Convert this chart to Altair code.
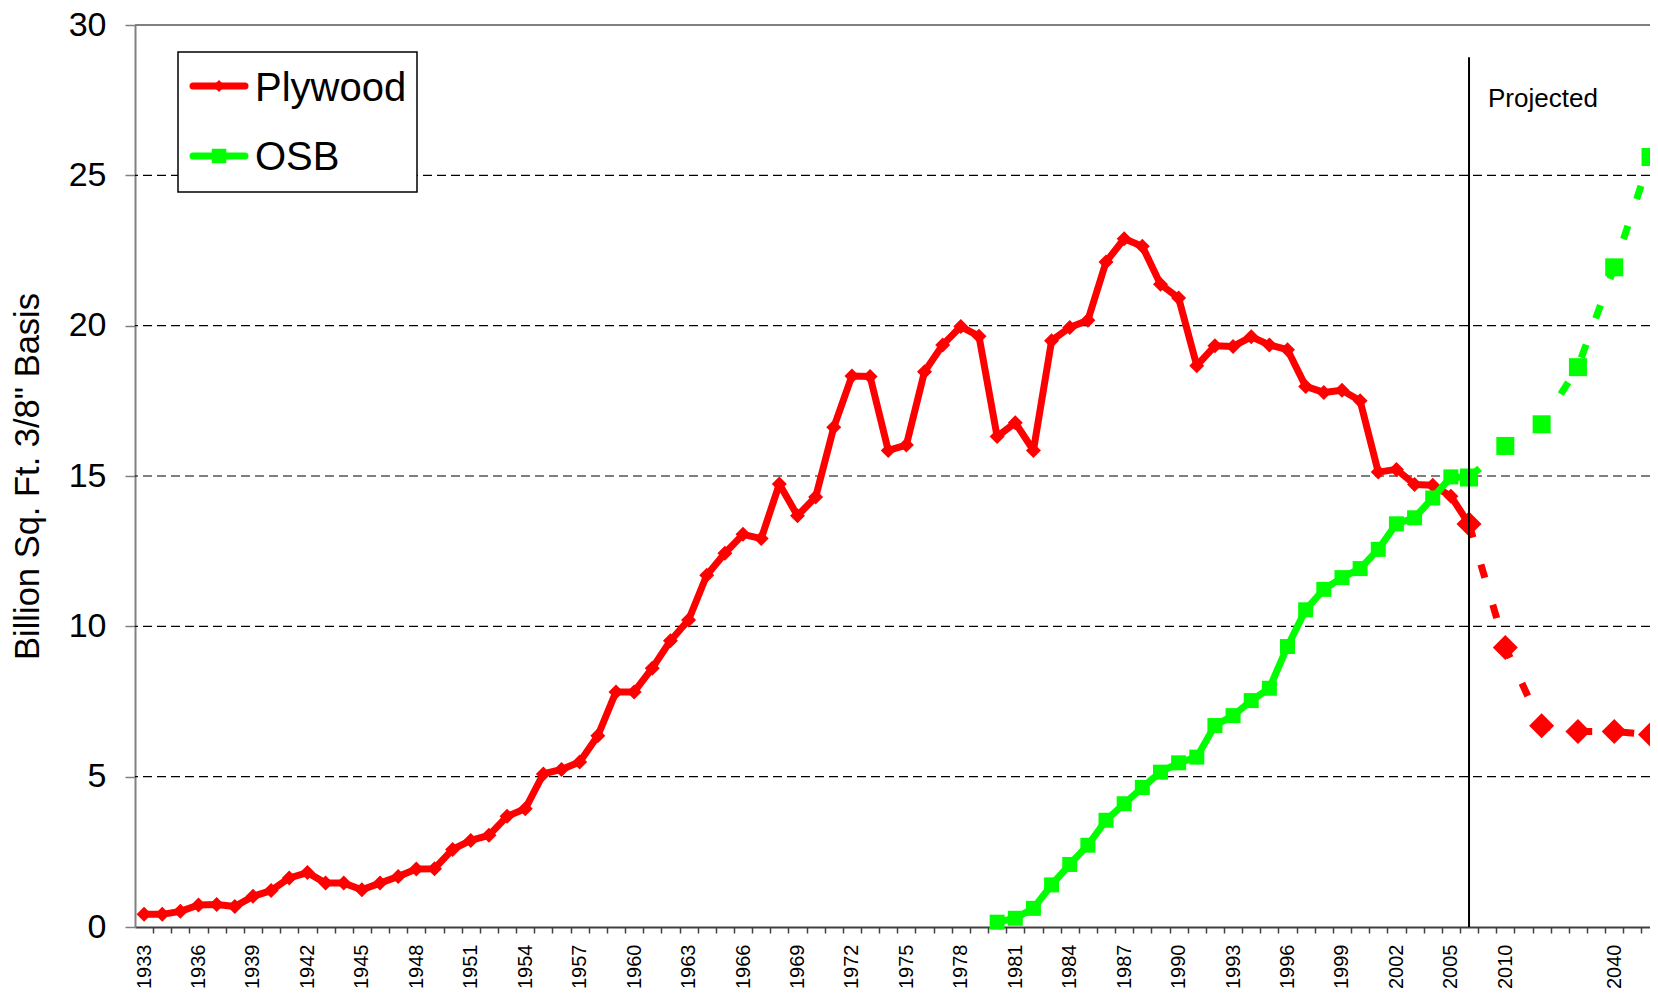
import altair as alt
import pandas as pd

# ---------------- data ----------------
CATEGORIES = [str(y) for y in range(1933, 2007)] + [
    "", "2010", "", "2020", "", "2030", "", "2040", "", "2050"]

PLY_YEARS = [str(y) for y in range(1933, 2007)]
PLY_VALUES = [
    0.42, 0.42, 0.52, 0.73, 0.75, 0.68, 1.02, 1.21, 1.63, 1.81,
    1.46, 1.46, 1.24, 1.46, 1.68, 1.93, 1.94, 2.58, 2.88, 3.05,
    3.68, 3.93, 5.09, 5.24, 5.49, 6.36, 7.82, 7.82, 8.61, 9.52,
    10.21, 11.70, 12.43, 13.06, 12.92, 14.73, 13.68, 14.30, 16.62, 18.33,
    18.31, 15.85, 16.03, 18.47, 19.36, 19.97, 19.65, 16.31, 16.77, 15.85,
    19.50, 19.94, 20.18, 22.12, 22.89, 22.64, 21.38, 20.92, 18.67, 19.33,
    19.31, 19.63, 19.36, 19.20, 17.98, 17.78, 17.85, 17.50, 15.13, 15.22,
    14.72, 14.69, 14.33, 13.40]

OSB_YEARS = [str(y) for y in range(1980, 2007)]
OSB_VALUES = [
    0.16, 0.29, 0.62, 1.40, 2.08, 2.72, 3.55, 4.10, 4.64, 5.15,
    5.46, 5.65, 6.70, 7.03, 7.53, 7.94, 9.33, 10.55, 11.23, 11.62,
    11.92, 12.56, 13.41, 13.61, 14.27, 14.97, 14.95]

PROJ_YEARS = ["2006", "2010", "2020", "2030", "2040", "2050"]
PLY_PROJ = [13.40, 9.30, 6.69, 6.50, 6.50, 6.40]
OSB_PROJ = [14.95, 16.00, 16.72, 18.62, 21.94, 25.61]

GRID_VALUES = [5, 10, 15, 20, 25]
Y_TICKS = [0, 5, 10, 15, 20, 25, 30]
Y_MAX = 30
PROJ_START = "2006"
PROJ_LINE_TOP = 28.93
Y_TITLE = 'Billion Sq. Ft. 3/8" Basis'
SERIES = ["Plywood", "OSB"]

RED = "#FF0000"
GREEN = "#00FF00"
FONT = "Liberation Sans"


def idx(labels):
    return [CATEGORIES.index(l) for l in labels]


ply_df = pd.DataFrame({"i": idx(PLY_YEARS), "v": PLY_VALUES})
osb_df = pd.DataFrame({"i": idx(OSB_YEARS), "v": OSB_VALUES})
ply_proj_df = pd.DataFrame({"i": idx(PROJ_YEARS), "v": PLY_PROJ})
osb_proj_df = pd.DataFrame({"i": idx(PROJ_YEARS), "v": OSB_PROJ})
grid_df = pd.DataFrame({"v": GRID_VALUES})
top_df = pd.DataFrame({"v": [Y_MAX]})
vline_df = pd.DataFrame({"i": [CATEGORIES.index(PROJ_START)], "v": [0], "v2": [PROJ_LINE_TOP]})
one = pd.DataFrame({"k": [0]})

# ---------------- layout ----------------
W, H = 1515, 902
BAND = 18.15                     # pixel width of one category
N = len(CATEGORIES)
X_HI = -0.5 + W / BAND           # plot is cut at the right edge like the original

xscale = alt.Scale(domain=[-0.5, X_HI], nice=False, zero=False)
yscale = alt.Scale(domain=[0, Y_MAX], nice=False, zero=True)

arr = "[" + ",".join("'" + c + "'" for c in CATEGORIES) + "]"
label_expr = f"(datum.value >= 0 && datum.value % 3 == 0) ? {arr}[datum.value] : ''"

x_axis = alt.Axis(
    values=list(range(-1, N - 1)), tickOffset=BAND / 2, labelOffset=-BAND / 2,
    labelExpr=label_expr, labelAngle=-90, labelFont=FONT, labelFontSize=20,
    labelColor="black", labelPadding=11, labelFlush=False, labelOverlap=False,
    labelBound=False, tickSize=6, tickColor="#404040", tickWidth=1.5,
    domainColor="#404040", domainWidth=2, grid=False, title=None)

y_axis = alt.Axis(
    values=Y_TICKS, labelFont=FONT, labelFontSize=34, labelColor="black",
    labelPadding=19, tickSize=10, tickColor="#808080", tickWidth=1.5,
    domainColor="#808080", domainWidth=2, grid=False,
    title=Y_TITLE, titleFont=FONT, titleFontSize=34.5, titleFontWeight="normal",
    titleColor="black", titleX=-97, titleY=H / 2, titleAngle=-90,
    titleBaseline="alphabetic", titleAlign="center")


def X():
    return alt.X("i:Q", scale=xscale, axis=x_axis)


def Y():
    return alt.Y("v:Q", scale=yscale, axis=y_axis)


grid = alt.Chart(grid_df).mark_rule(color="black", strokeWidth=1.2, strokeDash=[9, 5]).encode(
    y=Y())
top_border = alt.Chart(top_df).mark_rule(color="#808080", strokeWidth=2).encode(y=Y())

ply_line = alt.Chart(ply_df).mark_line(color=RED, strokeWidth=7, strokeJoin="round").encode(
    x=X(), y=Y())
ply_pts = alt.Chart(ply_df).mark_point(shape="diamond", filled=True, size=225, color=RED,
                                        opacity=1, strokeWidth=0).encode(x=X(), y=Y())
ply_proj_line = alt.Chart(ply_proj_df).mark_line(
    color=RED, strokeWidth=7, strokeDash=[14, 28], strokeCap="butt").encode(x=X(), y=Y())
ply_proj_pts = alt.Chart(ply_proj_df).mark_point(shape="diamond", filled=True, size=625, color=RED,
                                                 opacity=1, strokeWidth=0).encode(x=X(), y=Y())

osb_line = alt.Chart(osb_df).mark_line(color=GREEN, strokeWidth=7, strokeJoin="round").encode(
    x=X(), y=Y())
osb_pts = alt.Chart(osb_df).mark_point(shape="square", filled=True, size=225, color=GREEN,
                                        opacity=1, strokeWidth=0).encode(x=X(), y=Y())
osb_proj_line = alt.Chart(osb_proj_df).mark_line(
    color=GREEN, strokeWidth=7, strokeDash=[14, 28], strokeCap="butt").encode(x=X(), y=Y())
osb_proj_pts = alt.Chart(osb_proj_df).mark_point(shape="square", filled=True, size=324, color=GREEN,
                                                 opacity=1, strokeWidth=0).encode(x=X(), y=Y())

vline = alt.Chart(vline_df).mark_rule(color="black", strokeWidth=2).encode(
    x=X(), y=Y(), y2="v2:Q")
proj_text = alt.Chart(vline_df).mark_text(
    text="Projected", font=FONT, fontSize=26, color="black", align="left",
    baseline="alphabetic", dx=19).encode(x=X(), y=alt.value(82))

# ---------------- legend ----------------
leg_box = alt.Chart(one).mark_rect(fill="white", stroke="black", strokeWidth=1.5).encode(
    x=alt.value(43), x2=alt.value(282), y=alt.value(27), y2=alt.value(167))
leg_l1 = alt.Chart(one).mark_rule(color=RED, strokeWidth=7, strokeCap="round").encode(
    x=alt.value(58), x2=alt.value(110), y=alt.value(61))
leg_p1 = alt.Chart(one).mark_point(shape="diamond", filled=True, size=150, color=RED,
                                   opacity=1, strokeWidth=0).encode(x=alt.value(84), y=alt.value(61))
leg_t1 = alt.Chart(one).mark_text(text=SERIES[0], font=FONT, fontSize=40, color="black",
                                  align="left", baseline="alphabetic").encode(
    x=alt.value(120), y=alt.value(76))
leg_l2 = alt.Chart(one).mark_rule(color=GREEN, strokeWidth=7, strokeCap="round").encode(
    x=alt.value(58), x2=alt.value(110), y=alt.value(131))
leg_p2 = alt.Chart(one).mark_point(shape="square", filled=True, size=210, color=GREEN,
                                   opacity=1, strokeWidth=0).encode(x=alt.value(84), y=alt.value(131))
leg_t2 = alt.Chart(one).mark_text(text=SERIES[1], font=FONT, fontSize=40, color="black",
                                  align="left", baseline="alphabetic").encode(
    x=alt.value(120), y=alt.value(145))

chart = alt.layer(
    grid, top_border, ply_line, ply_pts, ply_proj_line, ply_proj_pts,
    osb_line, osb_pts, osb_proj_line, osb_proj_pts,
    vline, proj_text,
    leg_box, leg_l1, leg_p1, leg_t1, leg_l2, leg_p2, leg_t2,
).properties(
    width=W, height=H,
    padding={"left": 127, "top": 17, "right": 0, "bottom": 61},
    autosize=alt.AutoSizeParams(type="none"),
    background="white",
).configure_view(strokeWidth=0)

chart.save("out.html", embed_options={"renderer": "svg", "actions": False})
